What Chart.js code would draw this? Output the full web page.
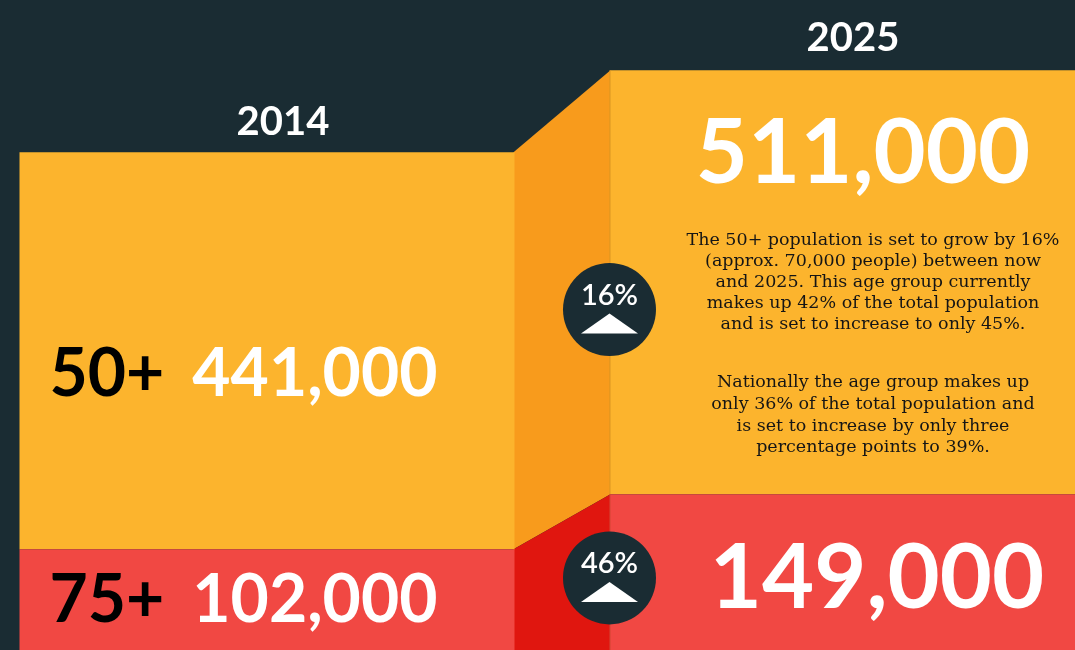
<!DOCTYPE html>
<html><head><meta charset="utf-8">
<script src="https://cdn.jsdelivr.net/npm/chart.js@4"></script>
<style>
html,body{margin:0;padding:0;background:#1a2c33;overflow:hidden;width:1075px;height:650px}
#wrap{position:absolute;left:-28px;top:0;width:1180px;height:650px}
</style></head><body>
<div id="wrap"><canvas id="c"></canvas></div>
<script>
// ---- data ----
const years = ['2014', '2025'];
const aged50plus = [441000, 511000];
const aged75plus = [102000, 149000];
const groupLabels = ['50+', '75+'];
const noteLines = [
  'The 50+ population is set to grow by 16%',
  '(approx. 70,000 people) between now',
  'and 2025. This age group currently',
  'makes up 42% of the total population',
  'and is set to increase to only 45%.'
];
const nationalLines = [
  'Nationally the age group makes up',
  'only 36% of the total population and',
  'is set to increase by only three',
  'percentage points to 39%.'
];
const aged50to74 = aged50plus.map((v, i) => v - aged75plus[i]);

// ---- styles ----
const BG = '#1a2c33', ORANGE = '#fcb42d', RED = '#f14843', ORANGE_DK = '#f89b1c', RED_DK = '#e0160f';
const NUMFONT = 'Lato, "Open Sans", sans-serif';
const fmt = v => v.toLocaleString('en-US');

const infographic = {
  id: 'infographic',
  beforeDatasetsDraw(chart) {
    const ctx = chart.ctx;
    const r = chart.getDatasetMeta(0).data, o = chart.getDatasetMeta(1).data;
    const xr = o[0].x + o[0].width / 2, xl = o[1].x - o[1].width / 2;
    ctx.save();
    ctx.fillStyle = ORANGE_DK;
    ctx.beginPath();
    ctx.moveTo(xr - 1, o[0].y); ctx.lineTo(xl + 1, o[1].y);
    ctx.lineTo(xl + 1, r[1].y); ctx.lineTo(xr - 1, r[0].y); ctx.closePath(); ctx.fill();
    ctx.fillStyle = RED_DK;
    ctx.beginPath();
    ctx.moveTo(xr - 1, r[0].y); ctx.lineTo(xl + 1, r[1].y);
    ctx.lineTo(xl + 1, r[1].base); ctx.lineTo(xr - 1, r[0].base); ctx.closePath(); ctx.fill();
    ctx.restore();
  },
  afterDatasetsDraw(chart) {
    const ctx = chart.ctx;
    const r = chart.getDatasetMeta(0).data, o = chart.getDatasetMeta(1).data;
    const xl = o[1].x - o[1].width / 2;
    const left0 = o[0].x - o[0].width / 2;
    const bottom = chart.chartArea.bottom;
    ctx.save();
    // shadow edge on 2025 bar
    ctx.strokeStyle = 'rgba(120,60,0,0.25)';
    ctx.lineWidth = 1;
    ctx.beginPath(); ctx.moveTo(xl + 0.5, o[1].y); ctx.lineTo(xl + 0.5, bottom); ctx.stroke();

    // year labels
    ctx.fillStyle = '#ffffff';
    ctx.textAlign = 'center'; ctx.textBaseline = 'alphabetic';
    ctx.font = 'bold 40px ' + NUMFONT;
    ctx.fillText(years[0], o[0].x + 16, o[0].y - 17);
    ctx.fillText(years[1], o[1].x - 4, o[1].y - 19);

    // 2014 labels
    ctx.textAlign = 'left';
    ctx.font = 'bold 66px ' + NUMFONT;
    const rows = [
      { lab: groupLabels[0], val: aged50plus[0], y: (o[0].y + r[0].y) / 2 + 45 },
      { lab: groupLabels[1], val: aged75plus[0], y: r[0].y + 73 }
    ];
    rows.forEach(rw => {
      ctx.fillStyle = '#000000';
      ctx.fillText(rw.lab, left0 + 30, rw.y);
      const w = ctx.measureText(rw.lab).width;
      ctx.fillStyle = '#ffffff';
      ctx.fillText(fmt(rw.val), left0 + 30 + w + 28, rw.y);
    });

    // 2025 labels
    ctx.textAlign = 'center';
    ctx.font = 'bold 90px ' + NUMFONT;
    ctx.fillStyle = '#ffffff';
    ctx.fillText(fmt(aged50plus[1]), o[1].x + 6, o[1].y + 113);
    ctx.fillText(fmt(aged75plus[1]), o[1].x + 20, r[1].y + 114);

    // paragraphs
    ctx.fillStyle = '#151515';
    ctx.font = '17.5px "DejaVu Serif", serif';
    ctx.textBaseline = 'middle';
    let y = o[1].y + 170;
    noteLines.forEach(t => { ctx.fillText(t, o[1].x + 16, y); y += 21.1; });
    y += 37;
    nationalLines.forEach(t => { ctx.fillText(t, o[1].x + 16, y); y += 21.6; });

    // growth circles
    const circles = [
      { pct: Math.round((aged50plus[1] - aged50plus[0]) / aged50plus[0] * 100),
        cy: (o[0].y + r[0].y + o[1].y + r[1].y) / 4 - 7 },
      { pct: Math.round((aged75plus[1] - aged75plus[0]) / aged75plus[0] * 100),
        cy: ((r[0].y + r[1].y) / 2 + bottom) / 2 - 8 }
    ];
    circles.forEach(c => {
      ctx.fillStyle = BG;
      ctx.beginPath(); ctx.arc(xl, c.cy, 46.5, 0, Math.PI * 2); ctx.fill();
      ctx.fillStyle = '#ffffff';
      ctx.font = '600 29px ' + NUMFONT;
      ctx.textAlign = 'center'; ctx.textBaseline = 'alphabetic';
      ctx.fillText(c.pct + '%', xl, c.cy - 5);
      ctx.beginPath();
      ctx.moveTo(xl, c.cy + 4);
      ctx.lineTo(xl + 28.5, c.cy + 24);
      ctx.lineTo(xl - 28.5, c.cy + 24);
      ctx.closePath(); ctx.fill();
    });
    ctx.restore();
  }
};

new Chart(document.getElementById('c'), {
  type: 'bar',
  data: {
    labels: years,
    datasets: [
      { label: 'Aged 75+', data: aged75plus, backgroundColor: RED, borderWidth: 0,
        barPercentage: 0.839, categoryPercentage: 1 },
      { label: 'Aged 50–74', data: aged50to74, backgroundColor: ORANGE, borderWidth: 0,
        barPercentage: 0.839, categoryPercentage: 1 }
    ]
  },
  options: {
    responsive: true, maintainAspectRatio: false, animation: false,
    layout: { padding: 0 },
    scales: {
      x: { display: false, stacked: true },
      y: { display: false, stacked: true, min: 16000, max: 571000 }
    },
    plugins: { legend: { display: false }, tooltip: { enabled: false } }
  },
  plugins: [infographic]
});
</script>
</body></html>
